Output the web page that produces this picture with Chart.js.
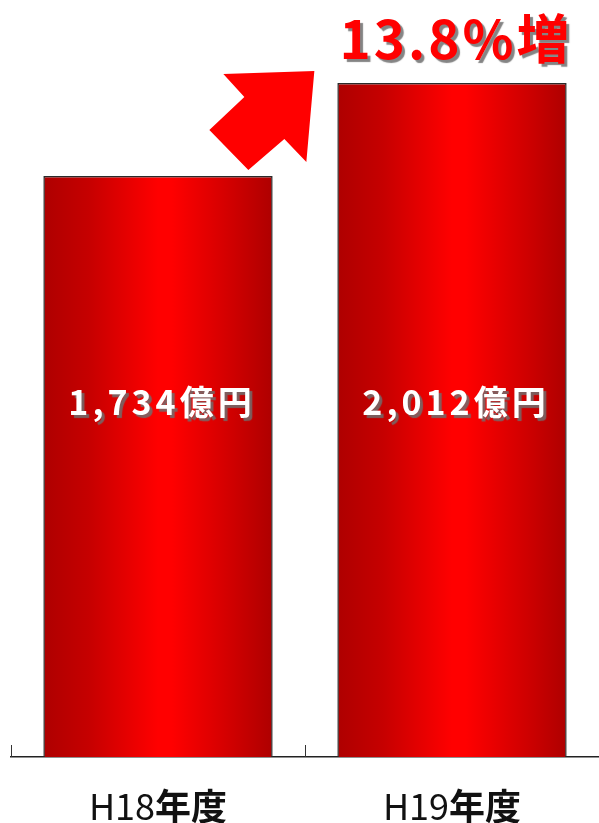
<!DOCTYPE html>
<html lang="ja">
<head>
<meta charset="UTF-8">
<title>売上推移</title>
<script src="https://cdn.jsdelivr.net/npm/chart.js@4"></script>
<style>
  html, body { margin: 0; padding: 0; background: #fff; }
  #wrap { width: 599px; height: 823px; }
</style>
</head>
<body>
<div id="wrap"><canvas id="barChart" width="599" height="823"></canvas></div>
<script>
const categories = ["H18年度", "H19年度"];
const values = [1734, 2012];
const valueLabels = ["1,734億円", "2,012億円"];
const growthLabel = "13.8%増";

const JP_FONT = '"Noto Sans CJK JP", "Noto Sans", sans-serif';
const BAR_PCT = 0.78;

// 文字に灰色の影をつけて描く
function shadowText(ctx, text, x, y, color, spacing) {
  ctx.save();
  ctx.letterSpacing = spacing || "0px";
  ctx.shadowColor = "rgba(110,110,110,0.85)";
  ctx.shadowOffsetX = 3;
  ctx.shadowOffsetY = 3;
  ctx.shadowBlur = 1;
  ctx.fillStyle = color;
  ctx.fillText(text, x, y);
  ctx.restore();
}

// 棒ごとに横方向のグラデーションを作る
function barFill(context) {
  const chart = context.chart;
  const xs = chart.scales.x;
  if (!chart.chartArea || !xs) return "#e00000";
  const cx = xs.getPixelForValue(context.dataIndex);
  const half = (xs.width / categories.length) * BAR_PCT / 2;
  const g = chart.ctx.createLinearGradient(cx - half, 0, cx + half, 0);
  g.addColorStop(0, "#ae0000");
  g.addColorStop(0.2, "#c60000");
  g.addColorStop(0.5, "#ff0000");
  g.addColorStop(0.56, "#ff0000");
  g.addColorStop(0.82, "#d00000");
  g.addColorStop(1, "#ae0000");
  return g;
}

// 金額・カテゴリ名・伸び率・矢印
const decorations = {
  id: "decorations",
  afterDraw(chart) {
    const c = chart.ctx;
    const area = chart.chartArea;
    const xs = chart.scales.x;
    const bars = chart.getDatasetMeta(0).data;

    // 軸の内側に向いた目盛り（カテゴリ境界）
    c.save();
    c.strokeStyle = "#333";
    c.lineWidth = 1;
    for (let i = 0; i < categories.length; i++) {
      const bx = Math.round(xs.getPixelForValue(i) - (xs.width / categories.length) / 2) + 0.5;
      c.beginPath();
      c.moveTo(bx, area.bottom);
      c.lineTo(bx, area.bottom - 12);
      c.stroke();
    }
    c.restore();

    // 棒の中の金額
    c.textAlign = "center";
    c.textBaseline = "middle";
    c.font = "bold 34px " + JP_FONT;
    bars.forEach((bar, i) => {
      shadowText(c, valueLabels[i], bar.x + 4, area.bottom - 355, "#ffffff", "4px");
    });

    // カテゴリ名（H18 は標準、年度 は太字）
    categories.forEach((cat, i) => {
      const m = cat.match(/^(H\d+)(.*)$/);
      const head = m[1];
      const tail = m[2];
      const cx = xs.getPixelForValue(i);
      const cy = area.bottom + 49;
      c.save();
      c.fillStyle = "#111";
      c.textBaseline = "middle";
      c.textAlign = "left";
      c.font = "36px " + JP_FONT;
      const w1 = c.measureText(head).width;
      c.font = "bold 36px " + JP_FONT;
      const w2 = c.measureText(tail).width;
      const x0 = cx - (w1 + w2) / 2;
      c.font = "36px " + JP_FONT;
      c.fillText(head, x0, cy);
      c.font = "bold 36px " + JP_FONT;
      c.fillText(tail, x0 + w1, cy);
      c.restore();
    });

    // 右上の伸び率
    const last = bars[bars.length - 1];
    c.textAlign = "center";
    c.textBaseline = "middle";
    c.font = "bold 53px " + JP_FONT;
    shadowText(c, growthLabel, last.x + 4, 39, "#ff0000", "3px");

    // 右上がりの矢印（H19 の棒の左上を基準にした形）
    const ax = last.x - last.width / 2;
    const ay = last.y;
    const arrow = [[-23, -12], [-114, -9], [-93, 14], [-128, 47], [-89, 87], [-53, 56], [-31, 79]];
    c.save();
    c.fillStyle = "#ff0000";
    c.beginPath();
    arrow.forEach(([dx, dy], k) => {
      if (k === 0) c.moveTo(ax + dx, ay + dy);
      else c.lineTo(ax + dx, ay + dy);
    });
    c.closePath();
    c.fill();
    c.restore();
  },
};

document.addEventListener("DOMContentLoaded", function () {
  const ctx = document.getElementById("barChart").getContext("2d");
  new Chart(ctx, {
    type: "bar",
    data: {
      labels: categories,
      datasets: [
        {
          data: values,
          backgroundColor: barFill,
          borderColor: "#2a2a2a",
          borderWidth: 1.5,
          barPercentage: BAR_PCT,
          categoryPercentage: 1,
        },
      ],
    },
    options: {
      responsive: false,
      animation: false,
      devicePixelRatio: 1,
      layout: { padding: { left: 11, right: 0, top: 20, bottom: 66 } },
      plugins: {
        legend: { display: false },
        tooltip: { enabled: false },
      },
      scales: {
        x: {
          grid: { display: false, drawTicks: false },
          border: { display: true, color: "#222", width: 1.5 },
          ticks: { display: false },
        },
        y: {
          display: false,
          min: 0,
          max: 2200,
        },
      },
    },
    plugins: [decorations],
  });
});
</script>
</body>
</html>
